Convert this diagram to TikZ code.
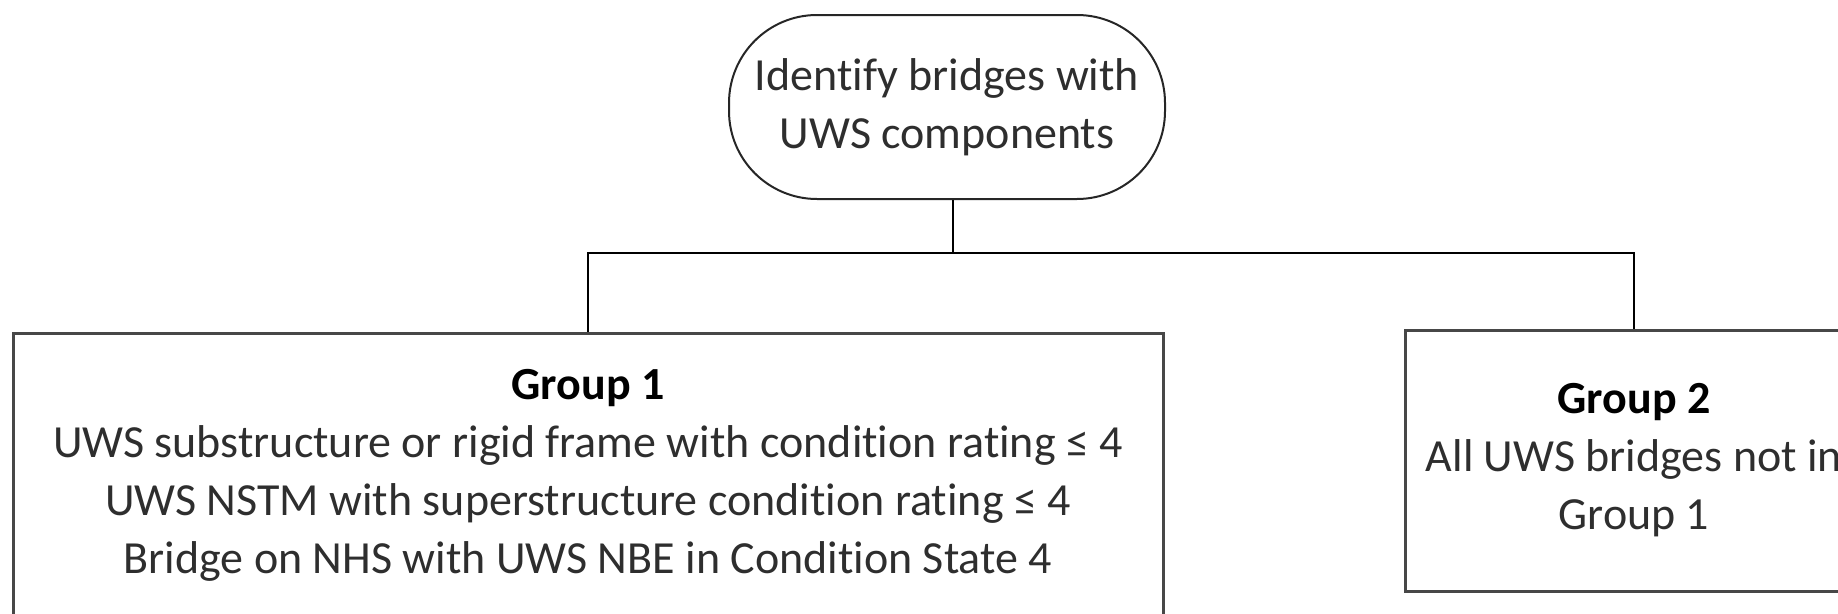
\documentclass[tikz,border=0pt]{standalone}
\usepackage{fontspec}
\setmainfont{Carlito}[Ligatures=NoCommon]
\begin{document}
\begin{tikzpicture}[x=1pt,y=-1pt,
  txt/.style={font=\fontsize{46}{58}\selectfont, text=black!82, align=center},
  startbox/.style={draw=black!85, line width=2pt, rounded corners=88pt,
    minimum width=436pt, minimum height=184pt, inner sep=0pt, txt},
  groupbox/.style={draw=black!72, line width=3pt, inner sep=0pt, txt},
  link/.style={draw=black, line width=2.6pt}]
\useasboundingbox (0,0) rectangle (1838,613);
\clip (0,0) rectangle (1838,613);
\node[startbox] (top) at (947,107) {Identify bridges with\\UWS components};
\node[groupbox, minimum width=1150pt, minimum height=284pt] (g1) at (588,475)
  {\textbf{\color{black}Group 1}\\
   UWS substructure or rigid frame with condition rating ≤ 4\\
   UWS NSTM with superstructure condition rating ≤ 4\\
   Bridge on NHS with UWS NBE in Condition State 4};
\node[groupbox, minimum width=458pt, minimum height=261pt] (g2) at (1634,460.5)
  {\textbf{\color{black}Group 2}\\
   All UWS bridges not in\\
   Group 1};
\coordinate (j) at (953,253);
\draw[link] (top.south -| j) -- (j);
\draw[link] (g1.north) |- (j) -| (g2.north);
\end{tikzpicture}
\end{document}
